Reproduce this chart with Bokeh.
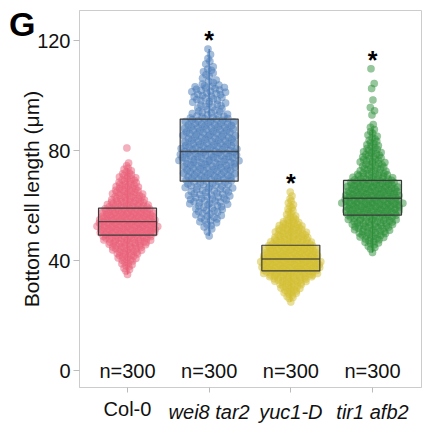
import numpy as np
from bokeh.plotting import figure
from bokeh.models import FixedTicker, LinearAxis
from bokeh.core.properties import value
from bokeh.embed import file_html
from bokeh.resources import INLINE

# ---------------- data ----------------
GROUPS = ["Col-0", "wei8 tar2", "yuc1-D", "tir1 afb2"]
COLORS = ["#EA627A", "#4A7BB7", "#D3BF33", "#2E8F3A"]
N_LABELS = ["n=300", "n=300", "n=300", "n=300"]
SIGNIF = ["", "*", "*", "*"]
PANEL_LETTER = "G"

BIN_WIDTH = 2  # µm, histogram bins

COL0_BIN_START = 34
COL0_COUNTS = [1, 4, 6, 9, 12, 16, 21, 24, 27, 28, 26, 24, 22, 18, 15, 13, 11, 9, 7, 4, 2, 0, 0, 1]
COL0_EXTRA = []

WEI8_BIN_START = 48
WEI8_COUNTS = [1, 2, 4, 6, 7, 8, 10, 11, 11, 12, 12, 13, 13, 14, 15, 15, 14, 13, 13, 13,
               13, 12, 10, 7, 8, 8, 9, 9, 4, 3, 4, 2, 2, 1, 1]
WEI8_EXTRA = []

YUC1_BIN_START = 24
YUC1_COUNTS = [1, 5, 9, 12, 18, 27, 30, 31, 29, 27, 25, 21, 17, 15, 12, 7, 4, 4, 3, 2, 1]
YUC1_EXTRA = []

TIR1_BIN_START = 42
TIR1_COUNTS = [1, 4, 7, 11, 14, 17, 19, 21, 22, 24, 22, 21, 20, 18, 15, 10, 10, 9, 8, 6, 5, 4, 3, 2]
TIR1_EXTRA = [93.0, 94.5, 95.7, 98.4, 102.6, 104.4, 109.8]

BIN_STARTS = [COL0_BIN_START, WEI8_BIN_START, YUC1_BIN_START, TIR1_BIN_START]
BIN_COUNTS = [COL0_COUNTS, WEI8_COUNTS, YUC1_COUNTS, TIR1_COUNTS]
EXTRAS = [COL0_EXTRA, WEI8_EXTRA, YUC1_EXTRA, TIR1_EXTRA]

Q1 = [49.3, 68.9, 36.3, 56.6]
MEDIAN = [54.2, 79.7, 40.6, 62.7]
Q3 = [59.1, 91.5, 45.6, 69.2]

Y_TICKS = [0, 40, 80, 120]
N_LABEL_Y = 0
LETTER_Y = 126

# ---------------- layout ----------------
W, H = 428, 425
ML, MR, MT, MB = 79, 7, 10, 35
FRAME_W = W - ML - MR
X_RANGE = (0.412, 4.6)
Y_RANGE = (-6.14, 131.0)
PX_PER_X = FRAME_W / (X_RANGE[1] - X_RANGE[0])
MAX_HALF_PX = 31
BOX_HALF = 0.355
FONT = "Liberation Sans"
LABEL_H = 22


def expand(start, counts, extra):
    vals = []
    for i, n in enumerate(counts):
        lo = start + i * BIN_WIDTH
        for k in range(n):
            vals.append(lo + (k + 0.5) * BIN_WIDTH / n)
    return np.array(vals + list(extra), dtype=float)


def vdc(n, base=2):
    v, denom = 0.0, 1.0
    while n:
        n, r = divmod(n, base)
        denom *= base
        v += r / denom
    return v


p = figure(width=W, height=H, output_backend="svg", toolbar_location=None,
           x_range=X_RANGE, y_range=Y_RANGE,
           min_border_left=ML, min_border_right=MR, min_border_top=MT, min_border_bottom=MB)
p.grid.visible = False
p.outline_line_color = "#cccccc"
p.outline_line_width = 1
p.background_fill_color = "white"
p.border_fill_color = "white"

for gi in range(4):
    xc = gi + 1
    color = COLORS[gi]
    vals = expand(BIN_STARTS[gi], BIN_COUNTS[gi], EXTRAS[gi])
    counts = np.array(BIN_COUNTS[gi], dtype=float)
    centers = BIN_STARTS[gi] + BIN_WIDTH * (np.arange(len(counts)) + 0.5)
    hw_px = np.interp(vals, centers, counts) * MAX_HALF_PX / counts.max()
    u = np.array([vdc(i + 1) for i in range(len(vals))])
    xs = xc + (2 * u - 1) * hw_px / PX_PER_X

    q1, med, q3 = Q1[gi], MEDIAN[gi], Q3[gi]
    iqr = q3 - q1
    lo_w = vals[vals >= q1 - 1.5 * iqr].min()
    hi_w = vals[vals <= q3 + 1.5 * iqr].max()

    p.scatter(xs, vals, size=7.5, fill_color=color, fill_alpha=0.5,
              line_color=color, line_alpha=0.15, line_width=0.5)
    p.segment(x0=[xc, xc], x1=[xc, xc], y0=[q3, q1], y1=[hi_w, lo_w],
              line_color=color, line_width=1.3)
    p.quad(left=[xc - BOX_HALF], right=[xc + BOX_HALF], bottom=[q1], top=[q3],
           fill_color=color, fill_alpha=0.3, line_color="#3a3a3a", line_width=1.2)
    p.segment(x0=[xc - BOX_HALF], x1=[xc + BOX_HALF], y0=[med], y1=[med],
              line_color="#333333", line_alpha=0.75, line_width=1.3)
    if SIGNIF[gi]:
        p.text(x=[xc], y=[vals.max()], text=[SIGNIF[gi]], y_offset=-9,
               text_align="center", text_baseline="middle",
               text_font=value(FONT), text_font_size="25px", text_font_style="bold",
               text_color="black")

p.text(x=[1, 2, 3, 4], y=[N_LABEL_Y] * 4, text=N_LABELS, text_align="center",
       text_baseline="middle", text_font=value(FONT), text_font_size="20px",
       text_color="#111111")

GRAY_LINE = "#cccccc"
GRAY_TICK = "#bbbbbb"

# y axis
p.yaxis.ticker = FixedTicker(ticks=Y_TICKS)
p.yaxis.axis_label = "Bottom cell length (μm)"
p.yaxis.axis_label_text_font = FONT
p.yaxis.axis_label_text_font_size = "21px"
p.yaxis.axis_label_text_font_style = "normal"
p.yaxis.axis_label_text_color = "#111111"
p.yaxis.axis_label_standoff = -9
p.yaxis.major_label_text_font = FONT
p.yaxis.major_label_text_font_size = "20px"
p.yaxis.major_label_text_color = "#111111"
p.yaxis.major_label_standoff = 3
p.yaxis.axis_line_color = GRAY_LINE
p.yaxis.major_tick_line_color = GRAY_TICK
p.yaxis.major_tick_in = 0
p.yaxis.major_tick_out = 6
p.yaxis.minor_tick_line_color = None

# x axis: Col-0 upright (major), others italic on a second axis aligned with it
p.xaxis.ticker = FixedTicker(ticks=[1], minor_ticks=[2, 3, 4])
p.xaxis.major_label_overrides = {1: GROUPS[0]}
p.xaxis.major_label_text_font = FONT
p.xaxis.major_label_text_font_size = "20px"
p.xaxis.major_label_text_color = "#111111"
p.xaxis.major_label_standoff = 5
p.xaxis.axis_line_color = GRAY_LINE
p.xaxis.major_tick_line_color = GRAY_TICK
p.xaxis.minor_tick_line_color = GRAY_TICK
p.xaxis.major_tick_in = 0
p.xaxis.minor_tick_in = 0
p.xaxis.major_tick_out = 5
p.xaxis.minor_tick_out = 5

xital = LinearAxis(ticker=FixedTicker(ticks=[2, 3, 4]),
                   major_label_overrides={2: GROUPS[1], 3: GROUPS[2], 4: GROUPS[3]},
                   major_label_text_font=FONT, major_label_text_font_size="20px",
                   major_label_text_font_style="italic", major_label_text_color="#111111",
                   major_label_standoff=-LABEL_H,
                   axis_line_color=None, major_tick_line_color=None, minor_tick_line_color=None,
                   major_tick_in=0, major_tick_out=0, minor_tick_in=0, minor_tick_out=0)
p.add_layout(xital, "below")

# panel letter on an outer left axis
gaxis = LinearAxis(ticker=FixedTicker(ticks=[LETTER_Y]),
                   major_label_overrides={LETTER_Y: PANEL_LETTER},
                   major_label_text_font=FONT, major_label_text_font_size="34px",
                   major_label_text_font_style="bold", major_label_text_color="black",
                   major_label_standoff=-18,
                   axis_line_color=None, major_tick_line_color=None, minor_tick_line_color=None,
                   major_tick_in=0, major_tick_out=0, minor_tick_in=0, minor_tick_out=0)
p.add_layout(gaxis, "left")

open("out.html", "w").write(file_html(p, INLINE))
